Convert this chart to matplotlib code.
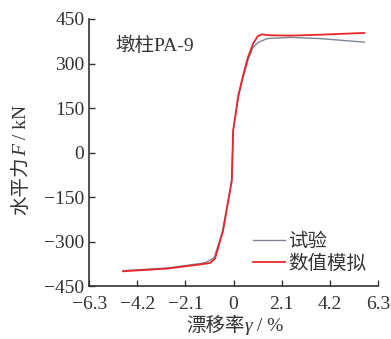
import numpy as np
import matplotlib
matplotlib.use("Agg")
from matplotlib import pyplot as plt

plt.rcParams['font.family'] = ['Liberation Serif', 'Noto Sans CJK SC']
plt.rcParams['axes.unicode_minus'] = True

# Skeleton curves: drift ratio (%) vs. horizontal force (kN)
sim_x = [-4.82, -2.9, -1.46, -1.02, -0.81, -0.46, -0.08, -0.02, 0.2, 0.38, 0.62, 0.85, 1.05, 1.23, 1.59, 2.5, 3.77, 5.70]
sim_y = [-400, -391, -377, -372, -357, -263, -94, 74, 190, 250, 320, 367, 392, 398, 395, 394, 397, 403]
test_x = [-4.82, -2.9, -1.46, -1.2, -0.85, -0.5, -0.08, -0.02, 0.2, 0.38, 0.62, 0.85, 1.07, 1.46, 2.5, 3.77, 5.70]
test_y = [-398, -389, -374, -370, -355, -270, -94, 74, 185, 243, 310, 355, 371, 384, 388, 384, 372]

x_ticks = [-6.3, -4.2, -2.1, 0, 2.1, 4.2, 6.3]
y_ticks = [-450, -300, -150, 0, 150, 300, 450]
x_labels = ['−6.3', '−4.2', '−2.1', '0', '2.1', '4.2', '6.3']
y_labels = ['−450', '−300', '−150', '0', '150', '300', '450']

TXT = '#333333'

fig = plt.figure(figsize=(3.91, 3.39), dpi=100)
ax = fig.add_axes([0.228, 0.156, 0.739, 0.788])

ax.plot(test_x, test_y, color='#7d8594', lw=1.0, label='试验')
ax.plot(sim_x, sim_y, color='#e8262a', lw=1.3, label='数值模拟')

ax.set_xlim(-6.3, 6.3)
ax.set_ylim(-450, 450)
ax.set_xticks(x_ticks)
ax.set_xticklabels(x_labels)
ax.set_yticks(y_ticks)
ax.set_yticklabels(y_labels)
ax.tick_params(direction='in', length=4, width=1, labelsize=14, colors=TXT)
ax.tick_params(axis='x', pad=7)
for s in ['top', 'right']:
    ax.spines[s].set_visible(False)
for s in ['left', 'bottom']:
    ax.spines[s].set_linewidth(1.2)
    ax.spines[s].set_color(TXT)

ax.text(0.09, 0.88, '墩柱PA-9', transform=ax.transAxes, fontsize=14, color=TXT)

ax.legend(loc='lower right', bbox_to_anchor=(1.0, 0.005), frameon=False, fontsize=14,
          handlelength=1.6, handletextpad=0.2, labelspacing=0.2, borderaxespad=0.2,
          labelcolor=TXT)

# axis titles built from pieces so the symbol can be italic
renderer = fig.canvas.get_renderer()


def pieces(parts, x0, y0, vertical):
    texts = []
    for s, st in parts:
        t = fig.text(0, 0, s, fontsize=14, color=TXT, style=st,
                     rotation=90 if vertical else 0, rotation_mode='anchor',
                     ha='left', va='baseline')
        texts.append(t)
    sizes = []
    for t in texts:
        bb = t.get_window_extent(renderer)
        sizes.append(bb.height if vertical else bb.width)
    pos = (y0 if vertical else x0) - sum(sizes) / 2
    for t, sz in zip(texts, sizes):
        if vertical:
            t.set_position((x0 / fig.bbox.width, pos / fig.bbox.height))
        else:
            t.set_position((pos / fig.bbox.width, y0 / fig.bbox.height))
        pos += sz


H = fig.bbox.height
pieces([('漂移率', 'normal'), ('γ', 'italic'), (' / %', 'normal')], 235, H - 331, False)
pieces([('水平力', 'normal'), ('F', 'italic'), (' / kN', 'normal')], 26, H - 160, True)

fig.savefig('out.png', dpi=100)
